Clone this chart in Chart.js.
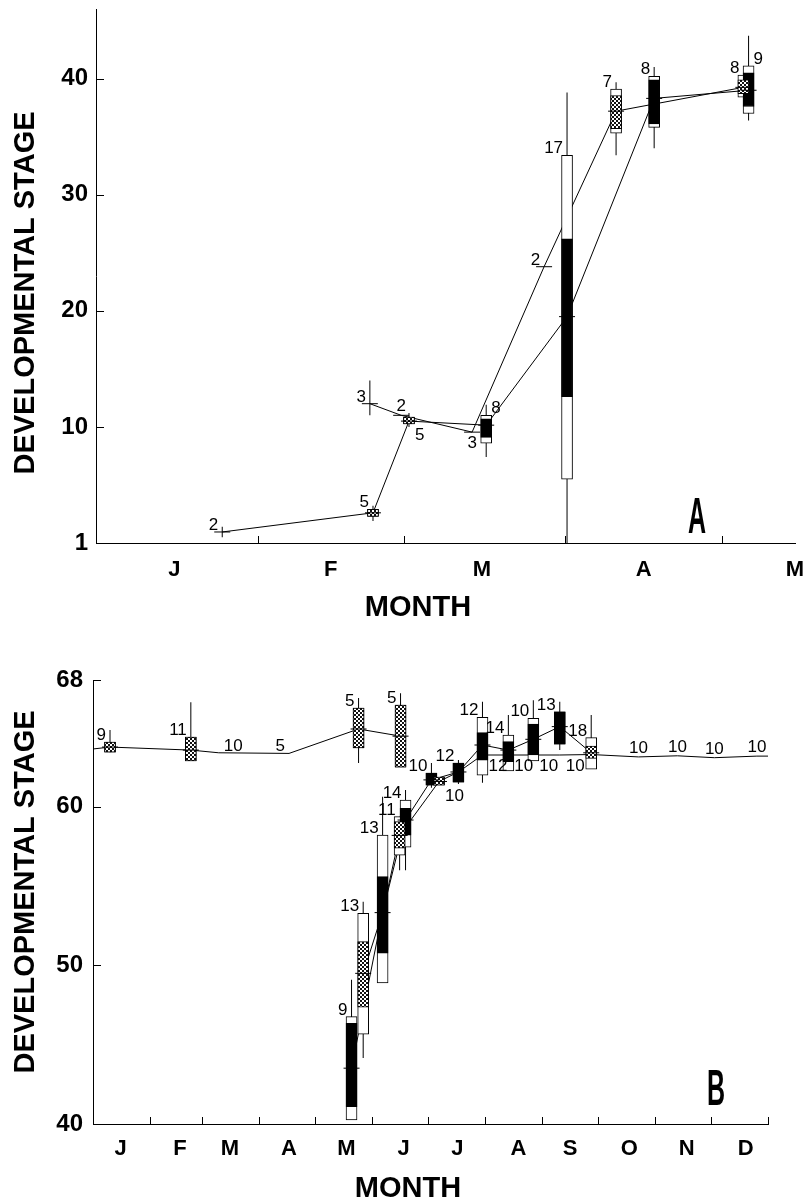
<!DOCTYPE html>
<html>
<head>
<meta charset="utf-8">
<script src="https://cdn.jsdelivr.net/npm/chart.js@4.4.1/dist/chart.umd.min.js"></script>
<style>
  html, body { margin: 0; padding: 0; background: #fff; }
  #wrap { position: relative; width: 806px; height: 1201px; }
  canvas { position: absolute; left: 0; }
  #chartA { top: 0; }
  #chartB { top: 640px; }
</style>
</head>
<body>
<div id="wrap">
  <canvas id="chartA" width="806" height="640"></canvas>
  <canvas id="chartB" width="806" height="561"></canvas>
</div>
<script>
//PANEL A (Jan - May), x = day of year
const aMonthDays   = [15, 45, 74, 105, 134];
const aMonthLabels = ["J", "F", "M", "A", "M"];
const aMonthStarts = [31, 59, 90, 120];
const aStageTicks  = [0, 10, 20, 30, 40];
const aStageLabels = ["1", "10", "20", "30", "40"];

// boxes and plain crosses
const aDay     = [24.2, 53.1, 52.5, 60.0, 58.5, 72.1, 74.8, 85.9, 90.3, 99.7, 107.0, 125.1, 124.1];
const aWhiskLo = [0.5, 1.9, 11.0, 10.0, null, null, 7.4, null, 0, 33.4, 34.0, 36.4, null];
const aWhiskHi = [1.4, 3.2, 14.0, 11.2, null, null, 11.9, null, 38.8, 39.7, 41.0, 43.7, null];
const aBoxLo   = [null, 2.3, null, 10.25, null, null, 8.6, null, 5.5, 35.3, 35.8, 37.0, 38.4];
const aBoxHi   = [null, 2.9, null, 10.85, null, null, 11.0, null, 33.4, 39.1, 40.2, 41.1, 40.3];
const aInLo    = [null, 2.3, null, 10.25, null, null, 9.1, null, 12.6, 35.7, 36.1, 37.6, 38.7];
const aInHi    = [null, 2.9, null, 10.85, null, null, 10.7, null, 26.2, 38.55, 39.9, 40.5, 39.9];
const aMedian  = [0.95, 2.6, 12.0, 10.5, 11.0, 9.55, 10.15, 23.8, 19.5, 37.2, 38.3, 39.0, 39.25];
const aKind    = ["", "dots", "", "dots", "", "", "solid", "", "solid", "dots", "solid", "solid", "dots"];

// connecting lines
const aLine1Day = [24.2, 53.1, 60.0, 74.8, 90.3, 107.0, 125.1];
const aLine1Val = [0.95, 2.6, 10.5, 10.15, 19.5, 38.3, 39.0];
const aLine2Day = [52.5, 58.5, 72.1, 85.9, 99.7, 124.1];
const aLine2Val = [12.0, 11.0, 9.55, 23.8, 37.2, 39.25];

// sample sizes
const aNDay  = [24.2, 53.1, 52.5, 60.0, 58.5, 72.1, 74.8, 85.9, 90.3, 99.7, 107.0, 125.1, 124.1];
const aNVal  = [0.95, 2.9, 12.0, 10.25, 11.0, 9.55, 11.0, 23.8, 33.4, 39.1, 40.2, 41.1, 40.3];
const aNText = ["2", "5", "3", "5", "2", "3", "8", "2", "17", "7", "8", "9", "8"];
const aNPos  = ["nw", "nw", "nw", "se", "n", "s", "ne", "nw", "nw", "nw", "nw", "ne", "nw"];

//PANEL B (whole year)
const bMonthDays   = [15, 47, 74, 106, 137, 168, 197, 230, 258, 290, 321, 353];
const bMonthLabels = ["J", "F", "M", "A", "M", "J", "J", "A", "S", "O", "N", "D"];
const bMonthStarts = [31, 59, 90, 120, 151, 181, 212, 243, 273, 304, 334, 365];
const bStageTicks  = [40, 50, 60, 68];
const bStageLabels = ["40", "50", "60", "68"];

const bDay     = [9.2, 52.9, 143.6, 166.3, 139.8, 146.1, 156.6, 169.0, 165.8, 183.0, 187.1, 197.6, 210.6, 224.6, 238.1, 252.4, 269.4];
const bWhiskLo = [63.45, 62.89, 62.76, 62.51, 40.25, 44.16, 48.9, 56.0, 56.0, 61.2, null, 61.44, 61.52, 62.26, 62.89, 63.58, 62.38];
const bWhiskHi = [64.84, 66.6, 66.86, 67.17, 49.1, 54.02, 60.64, 61.06, 59.38, 62.76, null, 62.95, 66.63, 65.79, 66.73, 66.63, 65.79];
const bBoxLo   = [63.45, 62.89, 63.71, 62.51, 40.25, 45.67, 48.9, 57.45, 56.96, 61.37, 61.37, 61.56, 62.0, 62.26, 62.89, 63.96, 62.38];
const bBoxHi   = [64.09, 64.40, 66.23, 66.42, 46.77, 53.28, 58.22, 60.43, 59.38, 62.13, 61.88, 62.76, 65.64, 64.53, 65.58, 66.0, 64.37];
const bInLo    = [63.45, 62.89, 63.71, 62.51, 41.09, 47.36, 50.77, 58.22, 57.39, 61.37, 61.37, 61.56, 62.95, 62.85, 63.27, 63.96, 63.06];
const bInHi    = [64.09, 64.40, 66.23, 66.42, 46.35, 51.5, 55.6, 59.9, 59.07, 62.13, 61.88, 62.76, 64.68, 64.11, 65.22, 66.0, 63.84];
const bMedian  = [63.77, 63.58, 64.91, 64.46, 43.52, 49.5, 53.33, 59.17, 58.2, 61.7, 61.6, 62.2, 63.9, 63.58, 64.26, 65.06, 63.41];
const bKind    = ["dots", "dots", "dots", "dots", "solid", "dots", "solid", "solid", "dots", "solid", "dots", "solid", "solid", "solid", "solid", "solid", "dots"];

const bUpperDay = [0, 9.2, 52.9, 68, 106, 143.6, 166.3];
const bUpperVal = [63.65, 63.77, 63.58, 63.41, 63.37, 64.91, 64.46];
const bLine1Day = [139.8, 156.6, 169.0, 183.0, 197.6, 210.6, 224.6, 238.1, 252.4, 269.4];
const bLine1Val = [43.52, 53.33, 59.17, 61.7, 62.2, 63.9, 63.58, 64.26, 65.06, 63.41];
const bLine2Day = [146.1, 156.6, 165.8, 187.1, 197.6, 210.6, 224.6, 238.1, 252.4, 269.4, 295, 316, 336, 359, 365];
const bLine2Val = [49.5, 53.33, 58.2, 61.6, 62.2, 63.27, 63.27, 63.27, 63.27, 63.3, 63.15, 63.22, 63.1, 63.2, 63.2];

const bNDay  = [9.2, 52.9, 68, 106, 143.6, 166.3, 139.8, 146.1, 156.6, 165.8, 169.0, 183.0, 187.1, 197.6, 210.6, 224.6, 238.1, 252.4, 269.4, 210.6, 224.6, 238.1, 252.4, 295, 316, 336, 359];
const bNVal  = [64.09, 64.40, 63.41, 63.37, 66.23, 66.42, 46.77, 53.28, 58.22, 59.38, 60.43, 62.13, 61.37, 62.76, 65.64, 64.53, 65.58, 66.0, 64.37, 63.27, 63.27, 63.27, 63.27, 63.15, 63.22, 63.1, 63.2];
const bNText = ["9", "11", "10", "5", "5", "5", "9", "13", "13", "11", "14", "10", "10", "12", "12", "14", "10", "13", "18", "12", "10", "10", "10", "10", "10", "10", "10"];
const bNPos  = ["nw", "nw", "ne", "nw", "nw", "nw", "nw", "nw", "nw", "nw", "nw", "nw", "se", "nw", "nw", "nw", "nw", "nw", "nw", "se", "se", "se", "se", "n", "n", "n", "n"];

Chart.defaults.font.family = '"Liberation Sans", Arial, Helvetica, sans-serif';
Chart.defaults.color = '#000';
const monthFont = { size: 22, weight: 'bold' };
const stageFont = { size: 24, weight: 'bold' };

function makeDots(ctx) {
  const c = document.createElement('canvas');
  c.width = 4; c.height = 4;
  const g = c.getContext('2d');
  g.fillStyle = '#fff'; g.fillRect(0, 0, 4, 4);
  g.fillStyle = '#111'; g.fillRect(0, 0, 2, 2); g.fillRect(2, 2, 2, 2);
  return ctx.createPattern(c, 'repeat');
}

function boxSets(dots, day, wLo, wHi, bLo, bHi, iLo, iHi, med, kind) {
  const idx = day.map((d, i) => i);
  const whisk = idx.filter(i => wLo[i] != null).map(i => ({ x: day[i], y: [wLo[i], wHi[i]] }));
  const outer = idx.filter(i => bLo[i] != null).map(i => ({ x: day[i], y: [bLo[i], bHi[i]] }));
  const inner = idx.filter(i => iLo[i] != null).map(i => ({ x: day[i], y: [iLo[i], iHi[i]], kind: kind[i] }));
  const meds = idx.map(i => ({ x: day[i], y: med[i] }));
  return [
    { type: 'scatter', data: meds, pointStyle: 'line', pointRadius: 8, pointBorderColor: '#000', pointBorderWidth: 1, order: 1 },
    { type: 'bar', data: inner, backgroundColor: c => (c.raw && c.raw.kind === 'dots') ? dots : '#000',
      borderColor: '#000', borderWidth: 1, borderSkipped: false, barThickness: 11, grouped: false, order: 2 },
    { type: 'bar', data: outer, backgroundColor: '#fff', borderColor: '#000', borderWidth: 1,
      borderSkipped: false, barThickness: 11, grouped: false, order: 3 },
    { type: 'bar', data: whisk, backgroundColor: '#000', borderWidth: 0, barThickness: 1,
      grouped: false, inflateAmount: 0, order: 4 }
  ];
}

function lineSet(days, vals) {
  return {
    type: 'line', data: days.map((d, i) => ({ x: d, y: vals[i] })),
    borderColor: '#000', borderWidth: 1, pointRadius: 0, tension: 0, fill: false, order: 5
  };
}

function xAxis(max, tickDays, tickLabels, height, pad) {
  return {
    type: 'linear', min: 0, max: max, offset: false,
    grid: { display: false, drawTicks: false },
    border: { display: true, color: '#000', width: 1 },
    ticks: { autoSkip: false, maxRotation: 0, padding: pad, color: '#000', font: monthFont,
      callback: (v, i) => tickLabels[i] },
    afterBuildTicks: s => { s.ticks = tickDays.map(v => ({ value: v })); },
    afterFit: s => { s.height = height; s.paddingLeft = 0; s.paddingRight = 0; }
  };
}

function yAxis(min, max, tickVals, tickLabels, width, pad) {
  return {
    type: 'linear', min: min, max: max,
    grid: { display: false, drawTicks: false },
    border: { display: true, color: '#000', width: 1 },
    ticks: { autoSkip: false, padding: pad, color: '#000', font: stageFont,
      callback: (v, i) => tickLabels[i] },
    afterBuildTicks: s => { s.ticks = tickVals.map(v => ({ value: v })); },
    afterFit: s => { s.width = width; s.paddingTop = 0; s.paddingBottom = 0; }
  };
}

// inward ticks, sample sizes, axis titles, panel letter
const decor = {
  id: 'decor',
  afterDraw(chart, args, o) {
    const { ctx, chartArea: ca } = chart;
    const x = chart.scales.x, y = chart.scales.y;
    ctx.save();
    ctx.strokeStyle = '#000';
    ctx.lineWidth = 1;
    ctx.beginPath();
    o.xMarks.forEach(v => {
      const px = Math.round(x.getPixelForValue(v)) + 0.5;
      ctx.moveTo(px, ca.bottom); ctx.lineTo(px, ca.bottom - 7);
    });
    o.yMarks.forEach(v => {
      const py = Math.round(y.getPixelForValue(v)) + 0.5;
      ctx.moveTo(ca.left, py); ctx.lineTo(ca.left + 8, py);
    });
    ctx.stroke();

    ctx.fillStyle = '#000';
    ctx.font = '17px "Liberation Sans", Arial, sans-serif';
    o.nDay.forEach((d, i) => {
      const px = x.getPixelForValue(d), py = y.getPixelForValue(o.nVal[i]);
      const pos = o.nPos[i];
      if (pos === 'nw') { ctx.textAlign = 'right'; ctx.textBaseline = 'alphabetic'; ctx.fillText(o.nText[i], px - 4, py - 2); }
      else if (pos === 'ne') { ctx.textAlign = 'left'; ctx.textBaseline = 'alphabetic'; ctx.fillText(o.nText[i], px + 5, py - 2); }
      else if (pos === 'se') { ctx.textAlign = 'left'; ctx.textBaseline = 'top'; ctx.fillText(o.nText[i], px + 6, py + 3); }
      else if (pos === 'n') { ctx.textAlign = 'center'; ctx.textBaseline = 'alphabetic'; ctx.fillText(o.nText[i], px, py - 4); }
      else { ctx.textAlign = 'center'; ctx.textBaseline = 'top'; ctx.fillText(o.nText[i], px, py + 3); }
    });

    ctx.font = 'bold 29px "Liberation Sans", Arial, sans-serif';
    ctx.textAlign = 'center';
    ctx.textBaseline = 'middle';
    ctx.fillText('MONTH', o.xTitle[0], o.xTitle[1]);
    ctx.save();
    ctx.translate(o.yTitle[0], o.yTitle[1]);
    ctx.rotate(-Math.PI / 2);
    ctx.fillText('DEVELOPMENTAL STAGE', 0, 0);
    ctx.restore();

    ctx.save();
    ctx.translate(o.letter[0], o.letter[1]);
    ctx.scale(0.5, 1);
    ctx.font = 'bold 50px "Liberation Sans", Arial, sans-serif';
    ctx.textBaseline = 'alphabetic';
    ctx.fillText(o.letter[2], 0, 0);
    ctx.restore();
    ctx.restore();
  }
};

//PANEL A
const ctxA = document.getElementById('chartA').getContext('2d');
new Chart(ctxA, {
  type: 'scatter',
  data: {
    datasets: [
      ...boxSets(makeDots(ctxA), aDay, aWhiskLo, aWhiskHi, aBoxLo, aBoxHi, aInLo, aInHi, aMedian, aKind),
      lineSet(aLine1Day, aLine1Val),
      lineSet(aLine2Day, aLine2Val)
    ]
  },
  options: {
    responsive: false,
    animation: false,
    events: [],
    layout: { padding: { top: 8, right: 11, bottom: 0, left: 0 } },
    scales: {
      x: xAxis(134, aMonthDays, aMonthLabels, 97, 14),
      y: yAxis(0, 46, aStageTicks, aStageLabels, 96, 8)
    },
    plugins: {
      legend: { display: false },
      tooltip: { enabled: false },
      decor: {
        xMarks: aMonthStarts, yMarks: aStageTicks.slice(1),
        nDay: aNDay, nVal: aNVal, nText: aNText, nPos: aNPos,
        xTitle: [418, 608], yTitle: [26, 293], letter: [697, 533, 'A']
      }
    }
  },
  plugins: [decor]
});

//PANEL B
const ctxB = document.getElementById('chartB').getContext('2d');
new Chart(ctxB, {
  type: 'scatter',
  data: {
    datasets: [
      ...boxSets(makeDots(ctxB), bDay, bWhiskLo, bWhiskHi, bBoxLo, bBoxHi, bInLo, bInHi, bMedian, bKind),
      lineSet(bUpperDay, bUpperVal),
      lineSet(bLine1Day, bLine1Val),
      lineSet(bLine2Day, bLine2Val)
    ]
  },
  options: {
    responsive: false,
    animation: false,
    events: [],
    layout: { padding: { top: 40, right: 38, bottom: 0, left: 0 } },
    scales: {
      x: xAxis(365, bMonthDays, bMonthLabels, 77, 12),
      y: yAxis(40, 68, bStageTicks, bStageLabels, 93, 10)
    },
    plugins: {
      legend: { display: false },
      tooltip: { enabled: false },
      decor: {
        xMarks: bMonthStarts, yMarks: bStageTicks.slice(1),
        nDay: bNDay, nVal: bNVal, nText: bNText, nPos: bNPos,
        xTitle: [408, 549], yTitle: [26, 252], letter: [716, 465, 'B']
      }
    }
  },
  plugins: [decor]
});
</script>
</body>
</html>
